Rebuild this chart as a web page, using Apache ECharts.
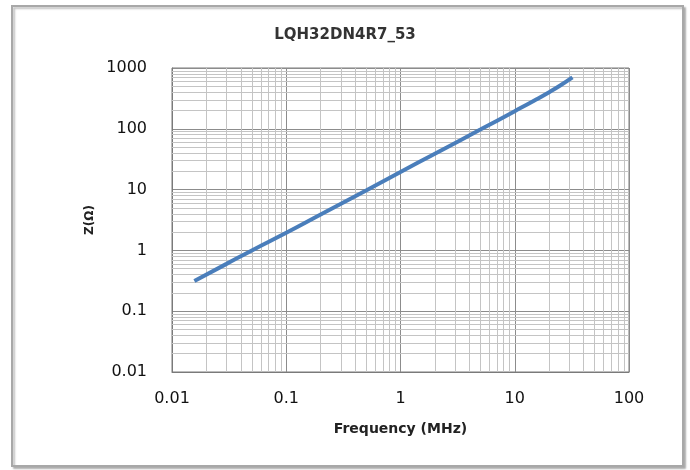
<!DOCTYPE html>
<html>
<head>
<meta charset="utf-8">
<script src="https://cdn.jsdelivr.net/npm/echarts@6/dist/echarts.min.js"></script>
<style>
html,body{margin:0;padding:0;background:#fff;}
#c{width:690px;height:470px;}
</style>
</head>
<body>
<div id="c"></div>
<script>
const titleText = 'LQH32DN4R7_53';
const xName = 'Frequency (MHz)';
const yName = 'Z(\u03a9)';
const freq = [0.0157, 0.03, 0.05, 0.1, 0.2, 0.5, 1, 2, 5, 10, 15, 20, 25, 32];
const imped = [0.315, 0.6, 1.0, 1.95, 3.9, 9.7, 19.5, 39, 97, 195, 295, 400, 515, 700];
const xMin = 0.01, xMax = 100;
const yMin = 0.01, yMax = 1000;
const minorMult = [2, 3, 4, 5, 6, 7, 8, 9];

function minorValues(lo, hi) {
  const out = [];
  for (let d = lo; d < hi * 0.999; d *= 10) {
    minorMult.forEach(m => out.push(+(d * m).toPrecision(6)));
  }
  return out;
}
const xMinor = minorValues(xMin, xMax);
const yMinor = minorValues(yMin, yMax);

const chart = echarts.init(document.getElementById('c'));
const font = 'DejaVu Sans';
chart.setOption({
  backgroundColor: '#fff',
  animation: false,
  title: {
    text: titleText, left: 'center', top: 23,
    textStyle: {fontFamily: font, fontSize: 15, fontWeight: 'bold', color: '#333'}
  },
  graphic: [{
    type: 'rect', left: 11, top: 5, z: -10,
    shape: {width: 671, height: 460},
    style: {fill: '#fff', stroke: '#a8a8a8', lineWidth: 2,
            shadowColor: 'rgba(0,0,0,0.25)', shadowOffsetX: 2, shadowOffsetY: 2, shadowBlur: 2}
  }],
  grid: {left: 172, right: 61, top: 68, bottom: 98, show: true, borderColor: '#7a7a7a', borderWidth: 1},
  xAxis: {
    type: 'log', logBase: 10, min: xMin, max: xMax,
    name: xName, nameLocation: 'middle', nameGap: 50,
    nameTextStyle: {fontFamily: font, fontSize: 14, fontWeight: 'bold', color: '#222'},
    axisLine: {show: true, lineStyle: {color: '#7a7a7a'}},
    axisTick: {show: false},
    axisLabel: {fontFamily: font, fontSize: 16, color: '#111', margin: 19,
      formatter: v => String(+v.toPrecision(6))},
    splitLine: {show: true, lineStyle: {color: '#8c8c8c', width: 1}}
  },
  yAxis: {
    type: 'log', logBase: 10, min: yMin, max: yMax,
    name: yName, nameLocation: 'middle', nameGap: 72, nameRotate: 90,
    nameTextStyle: {fontFamily: font, fontSize: 12, fontWeight: 'bold', color: '#222'},
    axisLine: {show: true, lineStyle: {color: '#7a7a7a'}},
    axisTick: {show: false},
    axisLabel: {fontFamily: font, fontSize: 16, color: '#111', margin: 25,
      formatter: v => String(+v.toPrecision(6))},
    splitLine: {show: true, lineStyle: {color: '#8c8c8c', width: 1}}
  },
  series: [
    {
      type: 'line', data: [], z: 1, silent: true,
      markLine: {
        silent: true, symbol: 'none', label: {show: false}, animation: false,
        lineStyle: {color: '#c4c4c4', width: 1, type: 'solid'},
        data: xMinor.map(v => ({xAxis: v})).concat(yMinor.map(v => ({yAxis: v})))
      }
    },
    {
      type: 'line', z: 5, showSymbol: false, smooth: true,
      data: freq.map((f, i) => [f, imped[i]]),
      lineStyle: {color: '#4a7ebb', width: 4},
      itemStyle: {color: '#4a7ebb'}
    }
  ]
});
</script>
</body>
</html>
